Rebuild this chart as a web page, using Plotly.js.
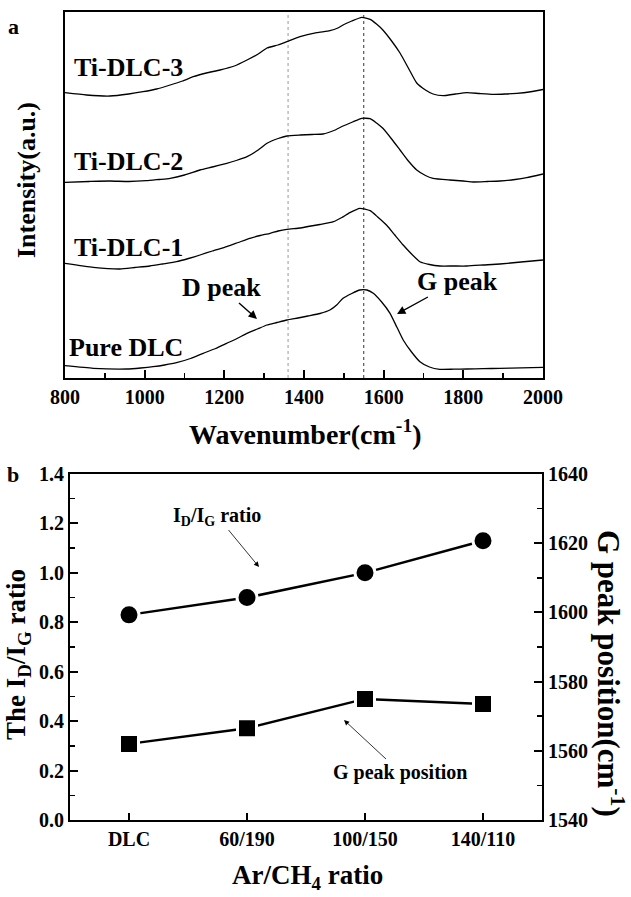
<!DOCTYPE html>
<html>
<head>
<meta charset="utf-8">
<script src="https://cdn.plot.ly/plotly-3.0.1.min.js"></script>
<style>html,body{margin:0;padding:0;background:#fff;}#chart{width:631px;height:897px;}</style>
</head>
<body>
<div id="chart"></div>
<script>
// ---- Panel a: Raman spectra (offset intensity, a.u.) ----
const wnDLC3 = [800, 854, 913, 960, 996, 1030, 1064, 1095, 1122, 1155, 1189, 1225, 1257, 1285, 1307, 1335, 1357, 1390, 1432, 1465, 1485, 1498, 1520, 1545, 1566, 1582, 1598, 1620, 1641, 1662, 1683, 1705, 1724, 1749, 1780, 1809, 1840, 1875, 1905, 1934, 1965, 2000];
const intDLC3 = [285.3, 283, 282, 284, 286.3, 289, 293, 297, 301.3, 305, 308, 312, 318, 324, 330, 333, 336.3, 341.3, 345.3, 347.3, 350, 353, 357, 360.7, 358.7, 354, 348, 337, 325, 310, 295, 288, 284, 282.3, 284, 285.3, 284.5, 283.7, 284, 284.7, 286, 288.5];

const wnDLC2 = [800, 860, 913, 960, 1004, 1035, 1064, 1100, 1139, 1170, 1206, 1230, 1257, 1285, 1307, 1335, 1357, 1390, 1420, 1448, 1475, 1498, 1522, 1545, 1566, 1582, 1598, 1620, 1641, 1662, 1683, 1705, 1724, 1766, 1800, 1825, 1860, 1892, 1930, 1959, 2000];
const intDLC2 = [195.7, 196.5, 197, 196.5, 197.3, 198.5, 199.7, 203, 208, 211, 214.7, 217.5, 221.3, 228, 234.7, 239.5, 242, 243, 243.5, 244, 247.5, 252, 256, 259.7, 259.3, 255, 249.7, 239, 228, 217, 208, 202.5, 199.7, 198, 197, 196, 196.5, 197, 198.5, 200.3, 204];

const wnDLC1 = [800, 871, 938, 975, 1013, 1045, 1080, 1110, 1139, 1170, 1206, 1235, 1264, 1290, 1315, 1335, 1357, 1390, 1410, 1440, 1474, 1495, 1515, 1540, 1566, 1585, 1607, 1628, 1649, 1670, 1691, 1715, 1741, 1775, 1809, 1850, 1892, 1945, 2000];
const intDLC1 = [114.7, 110.7, 109, 110.5, 112, 114, 116.3, 119.5, 123, 127, 131.3, 135.5, 139.7, 142.5, 144.7, 147, 148.7, 150, 151.5, 153.5, 156.3, 160.5, 165.3, 169.7, 167.3, 161, 153, 143, 133, 124, 116.3, 113.5, 112, 112, 112, 113, 114, 116, 118];

const wnPure = [800, 871, 955, 990, 1021, 1050, 1080, 1115, 1147, 1178, 1206, 1232, 1257, 1283, 1307, 1332, 1357, 1385, 1410, 1440, 1465, 1482, 1498, 1520, 1540, 1558, 1574, 1595, 1616, 1633, 1649, 1670, 1691, 1715, 1741, 1775, 1809, 1850, 1892, 1945, 2000];
const intPure = [12.3, 9.7, 9, 10, 11.3, 13, 15.3, 19.5, 24.7, 29.5, 34.7, 39.5, 44.7, 49, 53, 55.5, 58, 60, 62, 64.5, 68, 73, 79.7, 84.5, 88, 88, 84.7, 76, 64.7, 51, 38, 26, 16.3, 11, 8.7, 8.8, 9, 9.3, 9.7, 10.2, 10.7];

const spectraLabels = ["Ti-DLC-3", "Ti-DLC-2", "Ti-DLC-1", "Pure DLC"];
const peakLines = [1360, 1550];

// ---- Panel b: ratios ----
const ratioCats = ["DLC", "60/190", "100/150", "140/110"];
const idigRatio = [0.83, 0.90, 1.00, 1.13];
const gPeakPos = [1562, 1566.5, 1575, 1573.5];

const FF = "Liberation Serif, Times New Roman, serif";
const bold = (size) => ({family: FF, size: size, color: "#000", weight: 700});
const px = (x) => x / 631;
const py = (y) => 1 - y / 897;

const lineStyle = {color: "#000", width: 1.3, shape: "spline", smoothing: 0.5};
const traces = [
  {x: wnDLC3, y: intDLC3, mode: "lines", line: lineStyle, xaxis: "x", yaxis: "y", hoverinfo: "skip"},
  {x: wnDLC2, y: intDLC2, mode: "lines", line: lineStyle, xaxis: "x", yaxis: "y", hoverinfo: "skip"},
  {x: wnDLC1, y: intDLC1, mode: "lines", line: lineStyle, xaxis: "x", yaxis: "y", hoverinfo: "skip"},
  {x: wnPure, y: intPure, mode: "lines", line: lineStyle, xaxis: "x", yaxis: "y", hoverinfo: "skip"},
  {x: ratioCats, y: idigRatio, mode: "lines+markers", xaxis: "x2", yaxis: "y2",
   line: {color: "#000", width: 2.5},
   marker: {symbol: "circle", size: 20, color: "#000", line: {color: "#fff", width: 3}}},
  {x: ratioCats, y: gPeakPos, mode: "lines+markers", xaxis: "x2", yaxis: "y3",
   line: {color: "#000", width: 2.5},
   marker: {symbol: "square", size: 19, color: "#000", line: {color: "#fff", width: 3}}}
];

const shapes = peakLines.map((w, i) => ({
  type: "line", xref: "x", yref: "y domain", x0: w, x1: w, y0: 0, y1: 1, layer: "below",
  line: {color: i === 0 ? "#999" : "#333", width: 1, dash: "dot"}
}));

const labelPos = [[128, 67], [128, 161], [128, 247], [126, 347]];
const annotations = [];
spectraLabels.forEach((t, i) => annotations.push({
  text: t, xref: "paper", yref: "paper", x: px(labelPos[i][0]), y: py(labelPos[i][1]),
  xanchor: "center", yanchor: "middle", showarrow: false, font: bold(26)
}));
annotations.push(
  {text: "a", xref: "paper", yref: "paper", x: px(13), y: py(26), xanchor: "center", yanchor: "middle", showarrow: false, font: bold(22)},
  {text: "b", xref: "paper", yref: "paper", x: px(13), y: py(474), xanchor: "center", yanchor: "middle", showarrow: false, font: bold(22)},
  {text: "Intensity(a.u.)", xref: "paper", yref: "paper", x: px(27), y: py(180), textangle: -90, xanchor: "center", yanchor: "middle", showarrow: false, font: bold(26)},
  {text: "Wavenumber(cm<sup>-1</sup>)", xref: "paper", yref: "paper", x: px(305), y: py(432), xanchor: "center", yanchor: "middle", showarrow: false, font: bold(28)},
  {text: "D peak", xref: "paper", yref: "paper", x: px(257), y: py(319), ax: -36, ay: -32, showarrow: true,
   arrowhead: 2, arrowsize: 1.2, arrowwidth: 1.4, arrowcolor: "#000", standoff: 0, font: bold(26)},
  {text: "G peak", xref: "paper", yref: "paper", x: px(397), y: py(314), ax: 60, ay: -33, showarrow: true,
   arrowhead: 2, arrowsize: 1.2, arrowwidth: 1.4, arrowcolor: "#000", standoff: 0, font: bold(26)},
  {text: "The I<sub>D</sub>/I<sub>G</sub> ratio", xref: "paper", yref: "paper", x: px(18), y: py(655), textangle: -90, xanchor: "center", yanchor: "middle", showarrow: false, font: bold(27)},
  {text: "G peak position(cm<sup>-1</sup>)", xref: "paper", yref: "paper", x: px(611), y: py(673), textangle: 90, xanchor: "center", yanchor: "middle", showarrow: false, font: bold(31)},
  {text: "Ar/CH<sub>4</sub> ratio", xref: "paper", yref: "paper", x: px(307), y: py(877), xanchor: "center", yanchor: "middle", showarrow: false, font: bold(27)},
  {text: "I<sub>D</sub>/I<sub>G</sub> ratio", xref: "paper", yref: "paper", x: px(259), y: py(567), ax: -42, ay: -51, showarrow: true,
   arrowhead: 2, arrowsize: 1.3, arrowwidth: 0.8, arrowcolor: "#000", standoff: 0, font: bold(20)},
  {text: "G peak position", xref: "paper", yref: "paper", x: px(344), y: py(720), ax: 56, ay: 52, showarrow: true,
   arrowhead: 2, arrowsize: 1.3, arrowwidth: 0.8, arrowcolor: "#000", standoff: 0, font: bold(20)}
);

const axisBase = {showgrid: false, zeroline: false, showline: true, linewidth: 2, linecolor: "#000", mirror: true,
  tickcolor: "#000", tickfont: bold(20), fixedrange: true};

const layout = {
  width: 631, height: 897, margin: {l: 0, r: 0, t: 0, b: 0},
  paper_bgcolor: "#fff", plot_bgcolor: "#fff", showlegend: false,
  font: {family: FF, color: "#000"},
  xaxis: Object.assign({}, axisBase, {domain: [px(65), px(543)], anchor: "y", range: [800, 2000],
    tickvals: [800, 1000, 1200, 1400, 1600, 1800, 2000], ticks: "inside", ticklen: 8, tickwidth: 2,
    minor: {dtick: 100, tick0: 800, ticks: "inside", ticklen: 5, tickwidth: 1.5, tickcolor: "#000"}}),
  yaxis: Object.assign({}, axisBase, {domain: [py(378), py(12)], anchor: "x", range: [0, 366],
    showticklabels: false, ticks: ""}),
  xaxis2: Object.assign({}, axisBase, {domain: [px(70), px(542)], anchor: "y2", type: "category",
    categoryorder: "array", categoryarray: ratioCats, range: [-0.5, 3.5],
    ticks: "inside", ticklen: 7, tickwidth: 2}),
  yaxis2: Object.assign({}, axisBase, {domain: [py(820), py(474)], anchor: "x2", range: [0, 1.4],
    dtick: 0.2, tick0: 0, tickformat: ".1f", ticks: "inside", ticklen: 8, tickwidth: 2,
    minor: {dtick: 0.1, ticks: "inside", ticklen: 5, tickwidth: 1.5, tickcolor: "#000"}}),
  yaxis3: Object.assign({}, axisBase, {overlaying: "y2", side: "right", anchor: "x2", range: [1540, 1640],
    mirror: false, dtick: 20, tick0: 1540, ticks: "inside", ticklen: 8, tickwidth: 2,
    minor: {dtick: 10, ticks: "inside", ticklen: 5, tickwidth: 1.5, tickcolor: "#000"}}),
  shapes: shapes,
  annotations: annotations
};

Plotly.newPlot("chart", traces, layout, {displayModeBar: false, staticPlot: true});
</script>
</body>
</html>
